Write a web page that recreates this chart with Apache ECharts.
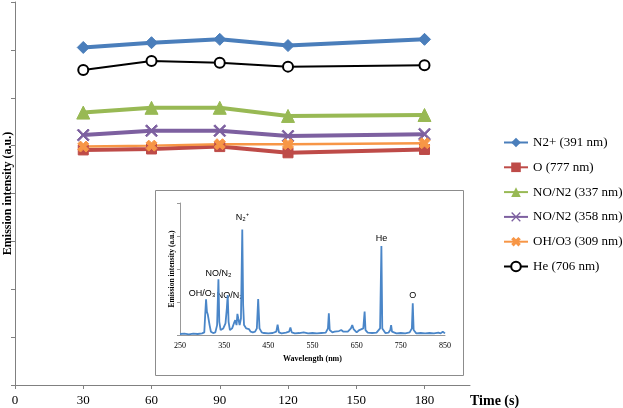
<!DOCTYPE html>
<html><head><meta charset="utf-8">
<script src="https://cdn.jsdelivr.net/npm/echarts@6/dist/echarts.min.js"></script>
<style>html,body{margin:0;padding:0;background:#fff}#c{width:623px;height:408px}</style>
</head><body><div id="c"></div>
<script>
// ---- Main chart data ----
const times = [30, 60, 90, 120, 180];
const timeTicks = [0, 30, 60, 90, 120, 150, 180];
const n2plus391 = [7.05, 7.15, 7.22, 7.09, 7.22];
const o777 = [4.91, 4.93, 4.98, 4.85, 4.92];
const noN2_337 = [5.69, 5.79, 5.79, 5.62, 5.64];
const noN2_358 = [5.22, 5.31, 5.31, 5.20, 5.24];
const ohO3_309 = [4.98, 5.00, 5.03, 5.03, 5.05];
const he706 = [6.58, 6.77, 6.73, 6.65, 6.68];
const seriesNames = ['N2+ (391 nm)', 'O (777 nm)', 'NO/N2 (337 nm)', 'NO/N2 (358 nm)', 'OH/O3 (309 nm)', 'He (706 nm)'];

// ---- Inset spectrum data ----
const wavelength = [250,260,270,280,290,300,305,307,309,311,313,315,317,320,325,330,334,337,339,342,348,353,356,358,360,363,368,372,375,378,380,382,385,388,391,393,395,398,400,403,406,410,415,420,424,427,430,435,440,450,460,468,471,474,480,490,497,500,503,510,520,530,540,550,560,570,580,585,587,589,595,600,610,615,620,630,637,640,643,650,654,656,660,665,668,670,675,685,695,703,706,708,715,722,726,728,730,740,750,760,770,775,777,779,785,795,805,815,825,835,840,845,848,850];
const intensity = [0.03,0.04,0.02,0.04,0.03,0.05,0.08,0.6,1.08,0.7,0.62,0.66,0.3,0.1,0.06,0.08,0.3,1.69,0.4,0.15,0.2,0.35,0.8,1.21,0.4,0.15,0.2,0.35,0.45,0.3,0.64,0.5,0.3,0.5,3.2,0.9,0.3,0.25,0.2,0.25,0.18,0.1,0.08,0.1,0.2,1.09,0.2,0.08,0.06,0.05,0.06,0.1,0.31,0.08,0.05,0.07,0.1,0.23,0.08,0.05,0.06,0.08,0.05,0.06,0.05,0.06,0.07,0.2,0.66,0.15,0.08,0.1,0.12,0.15,0.1,0.1,0.2,0.3,0.18,0.08,0.12,0.15,0.1,0.2,0.71,0.15,0.07,0.06,0.07,0.2,2.7,0.2,0.06,0.07,0.15,0.3,0.1,0.05,0.06,0.05,0.08,0.2,0.96,0.15,0.05,0.06,0.05,0.06,0.05,0.07,0.05,0.1,0.08,0.05];
const wlTicks = [250, 350, 450, 550, 650, 750, 850];
const peakLabels = [
  {wl: 391, y: 3.2, text: 'N₂⁺', dx: 0, dy: -4},
  {wl: 706, y: 2.7, text: 'He', dx: 0, dy: 0},
  {wl: 777, y: 0.96, text: 'O', dx: 0, dy: 0},
  {wl: 337, y: 1.69, text: 'NO/N₂', dx: 0, dy: 2},
  {wl: 309, y: 1.08, text: 'OH/O₃', dx: -4, dy: 2},
  {wl: 358, y: 1.21, text: 'NO/N₂', dx: 2, dy: 8}
];

const serif = 'Liberation Serif';
const xPath = 'path://M0,1L1,0L5,4L9,0L10,1L6,5L10,9L9,10L5,6L1,10L0,9L4,5Z';
const xPathThick = 'path://M0,2.5L2.5,0L5,2.5L7.5,0L10,2.5L7.5,5L10,7.5L7.5,10L5,7.5L2.5,10L0,7.5L2.5,5Z';

function mk(name, data, color, width, symbol, size, extra) {
  return Object.assign({
    name: name, type: 'line', xAxisIndex: 0, yAxisIndex: 0,
    data: times.map((t, i) => [t, data[i]]),
    symbol: symbol, symbolSize: size, showSymbol: true,
    lineStyle: {color: color, width: width},
    itemStyle: {color: color, borderColor: color},
    emphasis: {disabled: true}, animation: false, z: 3
  }, extra || {});
}

const chart = echarts.init(document.getElementById('c'), null, {renderer: 'canvas'});
chart.setOption({
  backgroundColor: '#fff',
  animation: false,
  grid: [
    {left: 15, top: 2, right: 153, bottom: 23, containLabel: false, outerBoundsMode: 'none'},
    {left: 180, top: 203, right: 178, bottom: 73, z: 5, containLabel: false, outerBoundsMode: 'none'}
  ],
  graphic: [{
    type: 'rect', z: 1, silent: true,
    shape: {x: 155.5, y: 190.5, width: 308, height: 185},
    style: {fill: '#fff', stroke: '#8c8c8c', lineWidth: 1}
  }],
  legend: {
    orient: 'vertical', left: 503, top: 136, padding: 0,
    itemWidth: 24, itemHeight: 12, itemGap: 11.8,
    textStyle: {fontFamily: serif, fontSize: 13, color: '#000'},
    data: seriesNames
  },
  xAxis: [{
    gridIndex: 0, type: 'value', min: 0, max: 200, interval: 30,
    name: 'Time (s)', nameLocation: 'end', nameGap: 0,
    nameTextStyle: {fontFamily: serif, fontWeight: 'bold', fontSize: 14, color: '#000', align: 'left', verticalAlign: 'top', padding: [9, 0, 0, 0]},
    axisLine: {lineStyle: {color: '#808080', width: 1}},
    axisTick: {show: true, length: 4, customValues: timeTicks, lineStyle: {color: '#808080'}},
    axisLabel: {customValues: timeTicks, fontFamily: serif, fontSize: 13, color: '#000', margin: 9},
    splitLine: {show: false}
  }, {
    gridIndex: 1, type: 'value', min: 250, max: 850,
    name: 'Wavelength (nm)', nameLocation: 'middle', nameGap: 20,
    nameTextStyle: {fontFamily: serif, fontWeight: 'bold', fontSize: 8, color: '#000'},
    axisLine: {lineStyle: {color: '#999', width: 1}},
    axisTick: {show: false},
    axisLabel: {customValues: wlTicks, fontFamily: serif, fontSize: 8, color: '#000', margin: 7},
    splitLine: {show: false}, z: 6
  }],
  yAxis: [{
    gridIndex: 0, type: 'value', min: 0, max: 8, interval: 1,
    name: 'Emission intensity (a.u.)', nameLocation: 'middle', nameGap: 1,
    nameTextStyle: {fontFamily: serif, fontWeight: 'bold', fontSize: 12, color: '#000'},
    axisLine: {show: true, lineStyle: {color: '#808080', width: 1}},
    axisTick: {show: true, length: 4, lineStyle: {color: '#808080'}},
    axisLabel: {show: false},
    splitLine: {show: false}
  }, {
    gridIndex: 1, type: 'value', min: 0, max: 4, interval: 1,
    name: 'Emission intensity (a.u.)', nameLocation: 'middle', nameGap: 4,
    nameTextStyle: {fontFamily: serif, fontWeight: 'bold', fontSize: 7.5, color: '#000'},
    axisLine: {show: true, lineStyle: {color: '#999', width: 1}},
    axisTick: {show: true, length: 3, lineStyle: {color: '#999'}},
    axisLabel: {show: false},
    splitLine: {show: false}, z: 6
  }],
  series: [
    mk(seriesNames[0], n2plus391, '#4a7ebb', 4, 'diamond', 12),
    mk(seriesNames[1], o777, '#be4b48', 4, 'rect', 10),
    mk(seriesNames[2], noN2_337, '#98b954', 4, 'triangle', 13),
    mk(seriesNames[3], noN2_358, '#7d60a0', 4, xPath, 12),
    mk(seriesNames[4], ohO3_309, '#f79646', 2.5, xPathThick, 11),
    mk(seriesNames[5], he706, '#000000', 2, 'emptyCircle', 10, {itemStyle: {color: '#000', borderColor: '#000', borderWidth: 2.5}}),
    {
      name: 'spectrum', type: 'line', xAxisIndex: 1, yAxisIndex: 1, z: 6,
      data: wavelength.map((w, i) => [w, intensity[i]]),
      symbol: 'none', lineStyle: {color: '#4a86c8', width: 1.8},
      animation: false, emphasis: {disabled: true},
      markPoint: {
        symbol: 'circle', symbolSize: 0, animation: false,
        label: {show: true, position: 'top', distance: 3, fontFamily: 'Liberation Sans', fontSize: 9, color: '#000'},
        data: peakLabels.map(p => ({coord: [p.wl, p.y], value: p.text,
          label: {formatter: p.text, offset: [p.dx, p.dy]}}))
      }
    }
  ]
});
</script>
</body></html>
